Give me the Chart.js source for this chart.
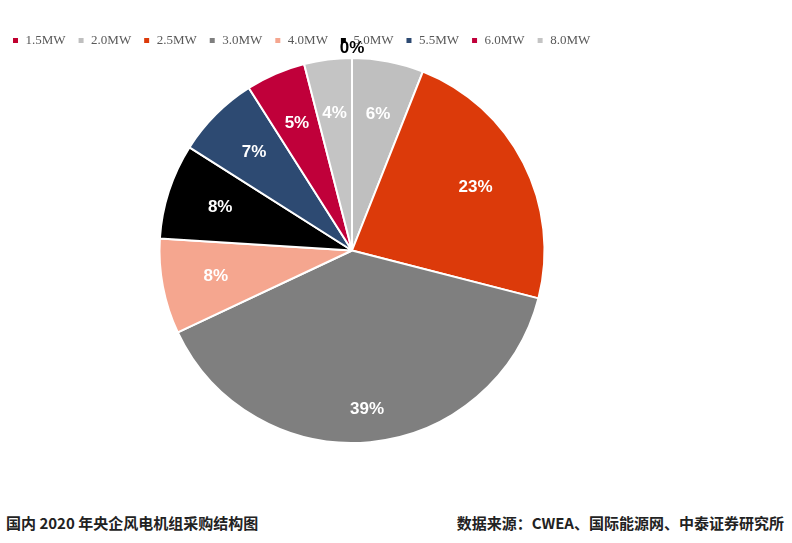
<!DOCTYPE html>
<html><head><meta charset="utf-8">
<script src="https://cdn.jsdelivr.net/npm/chart.js@4"></script>
<style>
body{margin:0;background:#fff;width:792px;height:543px;overflow:hidden;position:relative}
#wrap{position:absolute;left:0;top:0;width:792px;height:470px}
.cap{position:absolute;top:512px;font-family:"Noto Sans CJK SC","Liberation Serif",serif;font-size:15px;font-weight:bold;color:#222}
</style></head><body>
<div id="wrap"><canvas id="c"></canvas></div>
<div class="cap" style="left:6px">国内 2020 年央企风电机组采购结构图</div>
<div class="cap" style="right:8px">数据来源：CWEA、国际能源网、中泰证券研究所</div>
<script>
const categories=['1.5MW','2.0MW','2.5MW','3.0MW','4.0MW','5.0MW','5.5MW','6.0MW','8.0MW'];
const values=[0,6,23,39,8,8,7,5,4];
const colors=['#c0002f','#bfbfbf','#dc3a0a','#7f7f7f','#f5a68f','#000000','#2d4a72','#c0003a','#c4c4c4'];
const labelPlugin={id:'lbl',afterDatasetsDraw(chart){
 const ctx=chart.ctx;const meta=chart.getDatasetMeta(0);
 ctx.save();ctx.font='bold 17px "Liberation Sans",Arial';ctx.textAlign='center';ctx.textBaseline='middle';
 meta.data.forEach((a,i)=>{const mid=(a.startAngle+a.endAngle)/2;let r=a.outerRadius*0.72;ctx.fillStyle='#fff';
  if(values[i]===0){r=a.outerRadius+10;ctx.fillStyle='#000';}
  if(i===3) r=a.outerRadius*0.83;
  ctx.fillText(values[i]+'%',a.x+Math.cos(mid)*r,a.y+Math.sin(mid)*r);});
 ctx.restore();}};
new Chart(document.getElementById('c'),{type:'pie',
 data:{labels:categories,datasets:[{data:values,backgroundColor:colors,borderColor:'#fff',borderWidth:2}]},
 options:{responsive:true,maintainAspectRatio:false,animation:false,
  layout:{padding:{top:22,bottom:26,left:0,right:88}},
  plugins:{tooltip:{enabled:false},legend:{position:'top',align:'start',
   labels:{boxWidth:7,boxHeight:7,padding:12,color:'#595959',font:{family:'"Liberation Serif",serif',size:13}}}}},
 plugins:[labelPlugin]});
</script></body></html>
